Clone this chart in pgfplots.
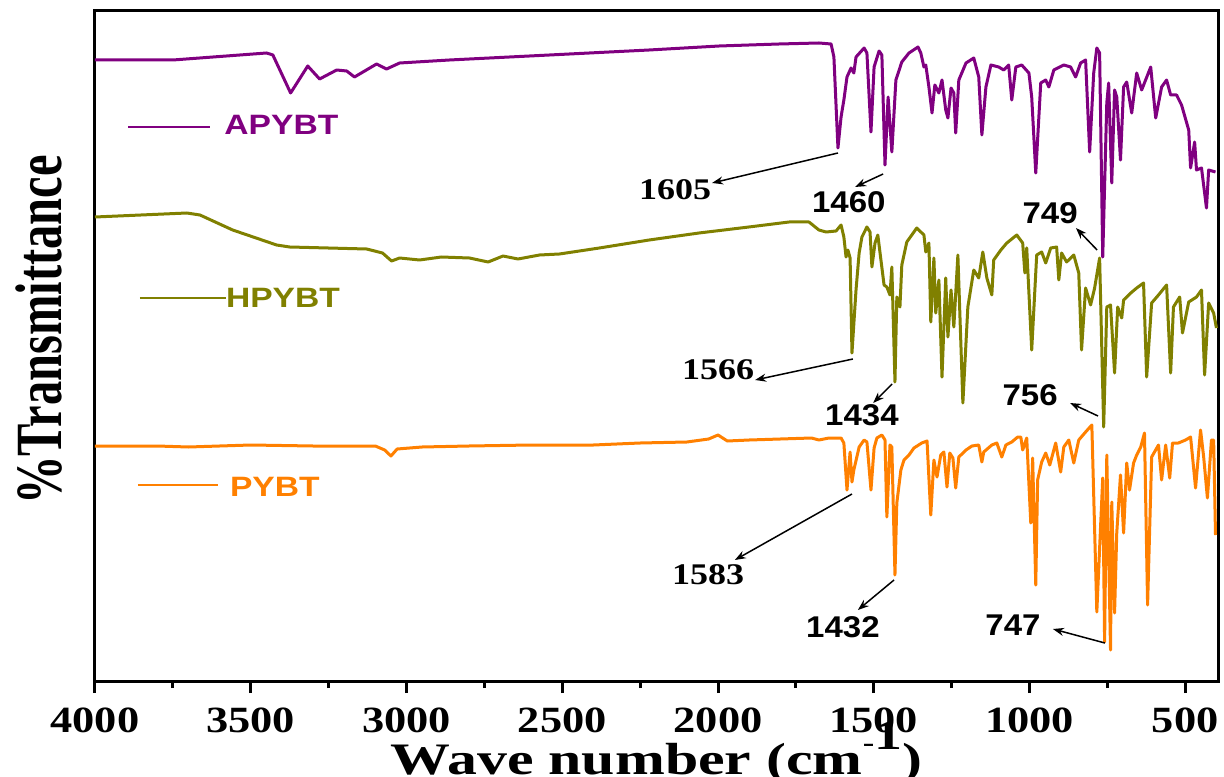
\documentclass[border=0pt]{standalone}
\usepackage{fontspec}
\usepackage{pgfplots}
\pgfplotsset{compat=1.18}
\usetikzlibrary{arrows.meta}
\newfontfamily\tnrA{Liberation Serif}[FakeStretch=1.2]
\newfontfamily\tnrX{Liberation Serif}[FakeStretch=1.33]
\newfontfamily\tnrY{Liberation Serif}[FakeStretch=0.735]
\newfontfamily\arA{Liberation Sans}[FakeStretch=1.2]
\newfontfamily\arB{Liberation Sans}[FakeStretch=1.1]
\definecolor{cpur}{HTML}{800080}
\definecolor{coli}{HTML}{808000}
\definecolor{cora}{HTML}{FF8000}
\begin{document}
\begin{tikzpicture}
\begin{axis}[name=ax, scale only axis, width=1123pt, height=670pt,
  xmin=395, xmax=4000, ymin=0, ymax=670, x dir=reverse,
  xtick={500,1000,...,4000}, minor x tick num=1, ytick=\empty,
  xtick pos=left, tick align=outside,
  major tick length=12pt, minor tick length=7pt,
  axis line style={line width=3pt},
  every tick/.style={line width=3pt, black},
  /pgf/number format/1000 sep={},
  /pgf/number format/assume math mode=true,
  xticklabel style={font=\tnrA\bfseries\fontsize{37}{37}\selectfont, yshift=-11pt},
  xlabel={Wave number (cm\raisebox{0.5em}{\fontsize{26}{26}\selectfont -}\raisebox{0.55em}{\fontsize{42}{42}\selectfont 1})},
  xlabel style={font=\tnrX\bfseries\fontsize{45}{45}\selectfont, at={(rel axis cs:0.5,0)}, anchor=base, yshift=-93pt},
  ylabel={\%Transmittance},
  ylabel style={font=\tnrY\bfseries\fontsize{66}{66}\selectfont, at={(rel axis cs:0,0.524)}, anchor=center, yshift=56pt},
  every axis plot/.append style={line width=3pt, line join=round},
]
% APYBT
\addplot[cpur] coordinates {
(4000,621)(3750,621)(3449,628)(3429,626)(3372,588)(3317,615)(3279,602)(3224,611)(3192,610)(3167,604)(3096,617)(3064,612)(3022,618)(2862,621)(2541,626)(2221,631)(1996,635)(1804,637)(1676,638)(1637,637)(1628,624)(1615,533)(1605,564)(1596,581)(1586,604)(1573,613)(1564,608)(1557,624)(1531,633)(1522,628)(1509,549)(1499,614)(1483,630)(1474,626)(1464,516)(1454,584)(1442,529)(1429,601)(1410,619)(1387,628)(1358,634)(1349,628)(1339,614)(1333,616)(1323,594)(1313,568)(1304,596)(1291,588)(1281,601)(1269,571)(1262,563)(1252,593)(1243,588)(1237,548)(1227,601)(1204,618)(1179,623)(1163,604)(1153,546)(1140,594)(1124,616)(1099,614)(1083,611)(1067,616)(1057,581)(1044,614)(1025,616)(1002,608)(993,584)(980,508)(964,598)(948,601)(938,594)(922,611)(890,616)(868,614)(852,604)(836,618)(820,621)(807,529)(794,608)(784,633)(775,628)(765,424)(752,578)(746,598)(736,498)(727,591)(720,584)(708,521)(698,594)(688,599)(672,568)(656,608)(640,591)(611,614)(595,563)(576,594)(560,601)(547,586)(528,586)(512,576)(489,551)(483,513)(470,539)(464,511)(448,513)(432,473)(425,511)(403,509)
};
% HPYBT
\addplot[coli] coordinates {
(4000,464)(3705,468)(3663,466)(3558,451)(3417,436)(3375,434)(3128,432)(3077,428)(3048,420)(3022,423)(2958,421)(2888,424)(2798,423)(2738,419)(2690,425)(2642,422)(2573,426)(2509,427)(2381,433)(2221,441)(2061,448)(1901,454)(1772,459)(1708,459)(1676,451)(1653,449)(1621,450)(1605,456)(1596,444)(1589,424)(1583,431)(1576,423)(1570,328)(1557,391)(1547,428)(1538,444)(1522,454)(1512,449)(1506,414)(1496,438)(1487,446)(1477,421)(1467,396)(1458,394)(1448,386)(1442,414)(1432,299)(1426,384)(1416,374)(1410,416)(1394,439)(1362,453)(1339,446)(1333,429)(1323,438)(1317,359)(1307,423)(1301,368)(1291,401)(1281,304)(1269,403)(1262,344)(1252,391)(1243,354)(1230,426)(1214,278)(1198,374)(1179,411)(1163,403)(1150,429)(1137,403)(1121,386)(1115,421)(1092,431)(1073,438)(1041,446)(1022,438)(1015,408)(1009,433)(993,331)(977,426)(961,429)(948,418)(932,433)(913,434)(906,401)(897,428)(881,419)(858,426)(842,408)(833,331)(820,393)(804,376)(791,393)(775,423)(762,254)(752,374)(740,376)(727,308)(717,374)(704,363)(698,381)(675,388)(656,393)(634,398)(624,304)(608,378)(586,386)(560,396)(547,308)(538,374)(518,384)(509,348)(489,379)(464,384)(448,391)(438,306)(425,378)(409,368)(400,353)
};
% PYBT
\addplot[cora] coordinates {
(4000,235)(3800,235)(3700,234)(3500,236)(3300,235)(3100,235)(3070,231)(3050,225)(3030,232)(2950,234)(2800,235)(2600,236)(2400,236)(2250,238)(2100,239)(2030,242)(2000,246)(1970,240)(1900,241)(1800,242)(1700,243)(1676,241)(1644,243)(1605,243)(1596,238)(1586,191)(1576,229)(1570,199)(1564,211)(1547,234)(1531,241)(1522,239)(1509,191)(1499,233)(1490,243)(1474,246)(1464,241)(1458,164)(1448,236)(1442,234)(1432,106)(1426,178)(1413,211)(1403,221)(1387,226)(1371,233)(1346,238)(1329,240)(1317,166)(1307,221)(1297,204)(1285,226)(1275,229)(1265,194)(1256,228)(1246,223)(1237,193)(1227,224)(1204,231)(1185,235)(1163,236)(1153,219)(1147,229)(1121,236)(1105,238)(1089,224)(1076,236)(1057,239)(1038,244)(1028,244)(1022,231)(1009,243)(996,158)(990,223)(980,96)(974,201)(961,219)(948,228)(935,216)(916,238)(900,209)(890,234)(874,241)(858,218)(842,241)(820,249)(800,256)(784,69)(772,154)(765,203)(759,39)(752,226)(740,31)(736,179)(727,68)(720,148)(708,206)(698,148)(688,218)(679,191)(666,218)(656,226)(643,234)(631,248)(621,76)(608,224)(586,236)(576,201)(563,236)(550,203)(541,238)(522,238)(499,241)(483,244)(467,193)(451,251)(441,224)(429,183)(416,241)(409,241)(403,146)
};
% series labels
\draw[cpur, line width=2pt] (axis cs:3894,554) -- (axis cs:3631,554);
\node[anchor=west, text=cpur, inner sep=0pt, font=\arA\bfseries\fontsize{28}{28}\selectfont] at (axis cs:3585,556) {APYBT};
\draw[coli, line width=2pt] (axis cs:3856,383) -- (axis cs:3580,383);
\node[anchor=west, text=coli, inner sep=0pt, font=\arA\bfseries\fontsize{28}{28}\selectfont] at (axis cs:3580,383) {HPYBT};
\draw[cora, line width=2pt] (axis cs:3862,196) -- (axis cs:3605,196);
\node[anchor=west, text=cora, inner sep=0pt, font=\arA\bfseries\fontsize{28}{28}\selectfont] at (axis cs:3567,194) {PYBT};
% annotations
\tikzset{ann/.style={line width=1.5pt, -{Stealth[length=11pt,width=8pt]}}}
\draw[ann] (axis cs:1615,528) -- (axis cs:2019,498);
\node[font=\tnrA\bfseries\fontsize{30}{30}\selectfont] at (axis cs:2138,491) {1605};
\draw[ann] (axis cs:1470,507) -- (axis cs:1560,494);
\node[font=\arB\bfseries\fontsize{30}{30}\selectfont] at (axis cs:1580,479) {1460};
\draw[ann] (axis cs:783,431) -- (axis cs:851,453);
\node[font=\arB\bfseries\fontsize{30}{30}\selectfont] at (axis cs:934,468) {749};
\draw[ann] (axis cs:1567,322) -- (axis cs:1881,301);
\node[font=\tnrA\bfseries\fontsize{30}{30}\selectfont] at (axis cs:2000,311) {1566};
\draw[ann] (axis cs:1441,297) -- (axis cs:1502,278);
\node[font=\arB\bfseries\fontsize{30}{30}\selectfont] at (axis cs:1538,266) {1434};
\draw[ann] (axis cs:780,265) -- (axis cs:870,278);
\node[font=\arB\bfseries\fontsize{30}{30}\selectfont] at (axis cs:998,286) {756};
\draw[ann] (axis cs:1570,187) -- (axis cs:1946,121);
\node[font=\tnrA\bfseries\fontsize{30}{30}\selectfont] at (axis cs:2032,106) {1583};
\draw[ann] (axis cs:1435,101) -- (axis cs:1551,71);
\node[font=\arB\bfseries\fontsize{30}{30}\selectfont] at (axis cs:1599,54) {1432};
\draw[ann] (axis cs:758,38) -- (axis cs:925,52);
\node[font=\arB\bfseries\fontsize{30}{30}\selectfont] at (axis cs:1053,56) {747};
\end{axis}
\pgfresetboundingbox
\path ([shift={(-95pt,-95pt)}]ax.south west) rectangle ([shift={(6pt,11pt)}]ax.north east);
\end{tikzpicture}
\end{document}
